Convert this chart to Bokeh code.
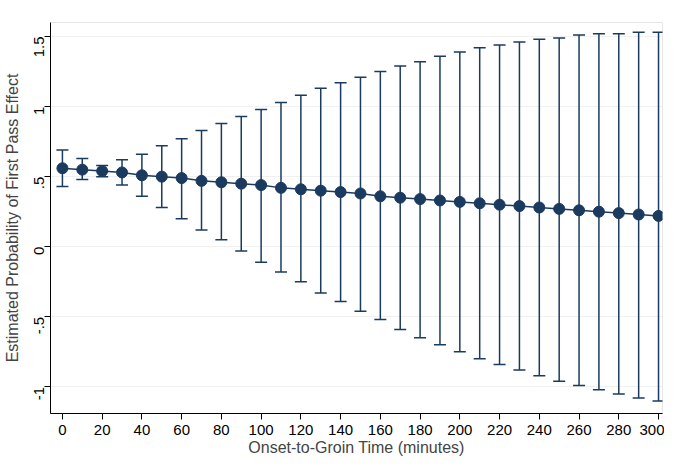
import math
from bokeh.plotting import figure
from bokeh.embed import file_html
from bokeh.resources import INLINE
from bokeh.models import ColumnDataSource, Whisker, FixedTicker

minutes = list(range(0, 301, 10))
estimate = [0.56,0.55,0.54,0.53,0.51,0.50,0.49,0.47,0.46,0.45,0.44,0.42,0.41,0.40,0.39,0.38,0.36,0.35,0.34,0.33,0.32,0.31,0.30,0.29,0.28,0.27,0.26,0.25,0.24,0.23,0.22]
upper = [0.69,0.63,0.58,0.62,0.66,0.72,0.77,0.83,0.88,0.93,0.98,1.03,1.08,1.13,1.17,1.21,1.25,1.29,1.32,1.36,1.39,1.42,1.44,1.46,1.48,1.49,1.51,1.52,1.52,1.53,1.53]
lower = [0.43,0.48,0.50,0.44,0.36,0.28,0.20,0.12,0.05,-0.03,-0.11,-0.18,-0.25,-0.33,-0.39,-0.46,-0.52,-0.59,-0.65,-0.70,-0.75,-0.80,-0.84,-0.88,-0.92,-0.96,-0.99,-1.02,-1.05,-1.08,-1.10]
yticks = [-1, -0.5, 0, 0.5, 1, 1.5]
ylabels = ["-1", "-.5", "0", ".5", "1", "1.5"]

navy = "#1a3a5f"
src = ColumnDataSource(dict(x=minutes, y=estimate, up=upper, lo=lower))

p = figure(width=664, height=458, output_backend="svg", toolbar_location=None,
           x_range=(-6, 302), y_range=(-1.19, 1.6), background_fill_color="white",
           border_fill_color="white", min_border_left=10, min_border_right=2, min_border_top=22)
p.xgrid.visible = False
p.ygrid.grid_line_color = "#f0f0f0"
p.outline_line_color = "#e6e6e6"

w = Whisker(source=src, base="x", upper="up", lower="lo", line_color=navy, line_width=1.5)
w.upper_head.size = 12
w.lower_head.size = 12
w.upper_head.line_color = navy
w.lower_head.line_color = navy
w.upper_head.line_width = 1.5
w.lower_head.line_width = 1.5
p.add_layout(w)
p.line("x", "y", source=src, line_color=navy, line_width=1.5)
p.scatter("x", "y", source=src, size=11, fill_color=navy, line_color=navy)

p.xaxis.ticker = FixedTicker(ticks=minutes[::2])
p.yaxis.ticker = FixedTicker(ticks=yticks)
p.yaxis.major_label_overrides = {t: l for t, l in zip(yticks, ylabels)}
p.yaxis.major_label_orientation = math.pi / 2
p.xaxis.axis_label = "Onset-to-Groin Time (minutes)"
p.yaxis.axis_label = "Estimated Probability of First Pass Effect"
for ax in (p.xaxis[0], p.yaxis[0]):
    ax.axis_label_text_font = "Liberation Sans"
    ax.axis_label_text_font_style = "normal"
    ax.axis_label_text_font_size = "16px"
    ax.major_label_text_font = "Liberation Sans"
    ax.major_label_text_font_size = "15px"
    ax.major_label_text_color = "black"
    ax.axis_line_color = "black"
    ax.major_tick_line_color = "black"
    ax.major_tick_out = 6
    ax.major_tick_in = 0
    ax.minor_tick_line_color = None
p.xaxis.axis_label_standoff = 1
p.yaxis.axis_label_standoff = 6

open("out.html", "w").write(file_html(p, INLINE))
